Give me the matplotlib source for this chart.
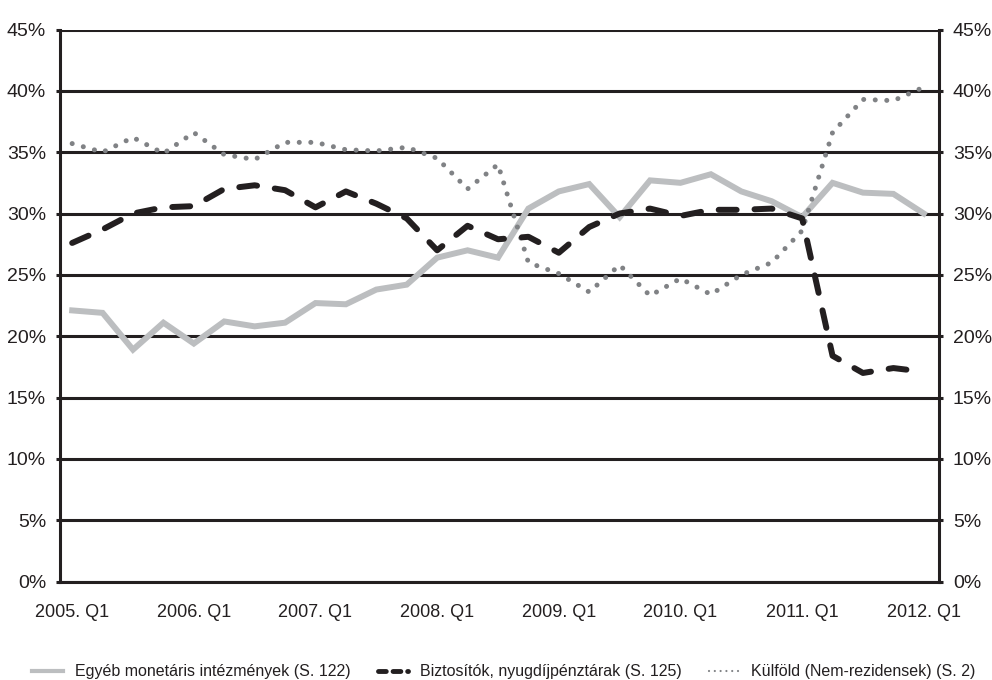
import matplotlib
matplotlib.use("Agg")
import matplotlib.pyplot as plt
from matplotlib.ticker import MultipleLocator, FuncFormatter

plt.rcParams['font.family'] = ['Liberation Sans', 'DejaVu Sans']

quarters = [f"{y}. Q{q}" for y in range(2005, 2012) for q in range(1, 5)] + ["2012. Q1"]

egyeb = [22.1, 21.9, 18.9, 21.1, 19.4, 21.2, 20.8, 21.1, 22.7, 22.6, 23.8, 24.2,
         26.4, 27.0, 26.4, 30.4, 31.8, 32.4, 29.7, 32.7, 32.5, 33.2, 31.8, 31.0,
         29.7, 32.5, 31.7, 31.6, 30.0]
biztositok = [27.6, 28.7, 30.0, 30.5, 30.6, 32.0, 32.3, 31.9, 30.5, 31.8, 30.8, 29.6,
              27.0, 29.0, 27.9, 28.1, 26.8, 28.9, 30.0, 30.4, 29.8, 30.3, 30.3, 30.4,
              29.6, 18.4, 17.0, 17.4, 17.1]
kulfold = [35.7, 35.0, 36.2, 34.9, 36.6, 34.8, 34.4, 35.8, 35.8, 35.2, 35.1, 35.4,
           34.5, 32.0, 34.0, 26.0, 25.1, 23.6, 25.8, 23.3, 24.7, 23.4, 25.0, 26.0,
           28.6, 36.6, 39.3, 39.2, 40.3]

labels = ["Egyéb monetáris intézmények (S. 122)",
          "Biztosítók, nyugdíjpénztárak (S. 125)",
          "Külföld (Nem-rezidensek) (S. 2)"]

dark = "#231f20"
fig = plt.figure(figsize=(9.92, 6.8), dpi=100)
ax = fig.add_axes([60/992, 1-581.5/680, 879/992, 552/680])

x = list(range(len(quarters)))
ax.plot(x, egyeb, color="#bcbec0", lw=4.3, solid_joinstyle='miter', label=labels[0], zorder=3)
ax.plot(x, biztositok, color=dark, lw=4.3, dashes=(3.0, 3.0), dash_capstyle='round',
        label=labels[1], zorder=4)
ax.plot(x, kulfold, color="#808285", lw=3.6, dashes=(0.01, 2.3), dash_capstyle='round',
        label=labels[2], zorder=3)

ax.set_xlim(-0.4, 28.5)
ax.set_ylim(0, 45)
ax.yaxis.set_major_locator(MultipleLocator(5))
ax.yaxis.set_major_formatter(FuncFormatter(lambda v, p: f"{v:.0f}%"))
ax.grid(axis='y', color=dark, lw=2.2, zorder=1)
ax.set_axisbelow(True)

tick_idx = list(range(0, len(quarters), 4))
ax.set_xticks(tick_idx)
ax.set_xticklabels([quarters[i] for i in tick_idx])
ax.tick_params(axis='x', length=0, pad=16, labelsize=13, labelcolor=dark)
ax.tick_params(axis='y', length=3, width=2.2, color=dark, labelsize=14, labelcolor=dark,
               left=True, right=True, labelleft=True, labelright=True, pad=7)

for side in ['left', 'right', 'bottom', 'top']:
    ax.spines[side].set_color(dark)
    ax.spines[side].set_linewidth(2.2)
ax.spines['top'].set_visible(False)

leg = fig.legend(loc='center', bbox_to_anchor=(0.508, 0.012), ncol=3, frameon=False,
                 fontsize=11.5, handlelength=1.9, handletextpad=0.75, columnspacing=1.7,
                 labelcolor=dark)
h = leg.legend_handles
h[0].set_linewidth(3.0)
h[1].set_linewidth(3.5)
h[1].set_dashes((1.6, 1.4))
h[2].set_linewidth(1.6)
h[2].set_dashes((0.01, 2.6))

fig.savefig("out.png", dpi=100)
